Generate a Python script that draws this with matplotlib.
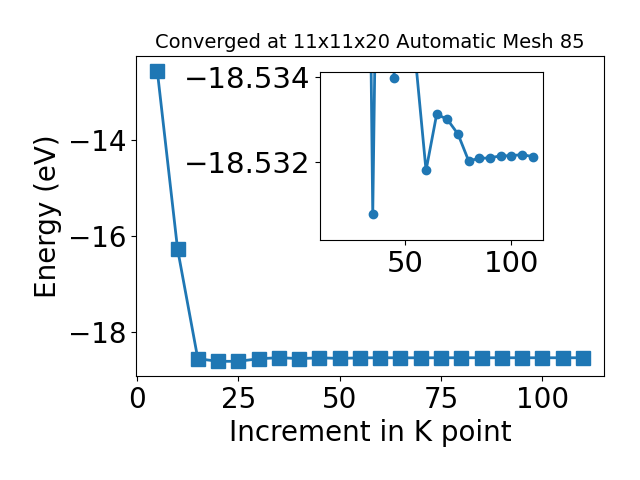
import matplotlib
matplotlib.use('Agg')
import matplotlib.pyplot as plt

kpoints = [5, 10, 15, 20, 25, 30, 35, 40, 45, 50, 55, 60, 65, 70, 75, 80, 85, 90, 95, 100, 105, 110]
energy = [-12.567, -16.27, -18.552, -18.606, -18.606, -18.553, -18.53078, -18.549,
          -18.53399, -18.545, -18.53445, -18.531805, -18.53313, -18.533005, -18.53266,
          -18.53203, -18.53209, -18.5321, -18.53215, -18.53215, -18.53218, -18.53213]

fig = plt.figure(figsize=(6.4, 4.8), dpi=100)
ax = fig.add_axes([0.2125, 0.217, 0.7315, 0.666])
ax.plot(kpoints, energy, marker='s', markersize=10, linewidth=2, color='#1f77b4')
ax.set_xlabel('Increment in K point', fontsize=20)
ax.set_ylabel('Energy (eV)', fontsize=20)
ax.set_title('Converged at 11x11x20 Automatic Mesh 85', fontsize=14)
ax.tick_params(labelsize=20)

# inset zoomed on the converged part
ax2 = fig.add_axes([0.5, 0.5, 0.348, 0.35])
ax2.plot(kpoints[2:], energy[2:], marker='o', markersize=6, linewidth=2, color='#1f77b4')
ax2.set_ylim(-18.53017, -18.53412)
ax2.set_yticks([-18.534, -18.532])
ax2.set_xticks([50, 100])
ax2.ticklabel_format(axis='y', useOffset=False)
ax2.tick_params(labelsize=21)

plt.savefig('out.png', dpi=100)
